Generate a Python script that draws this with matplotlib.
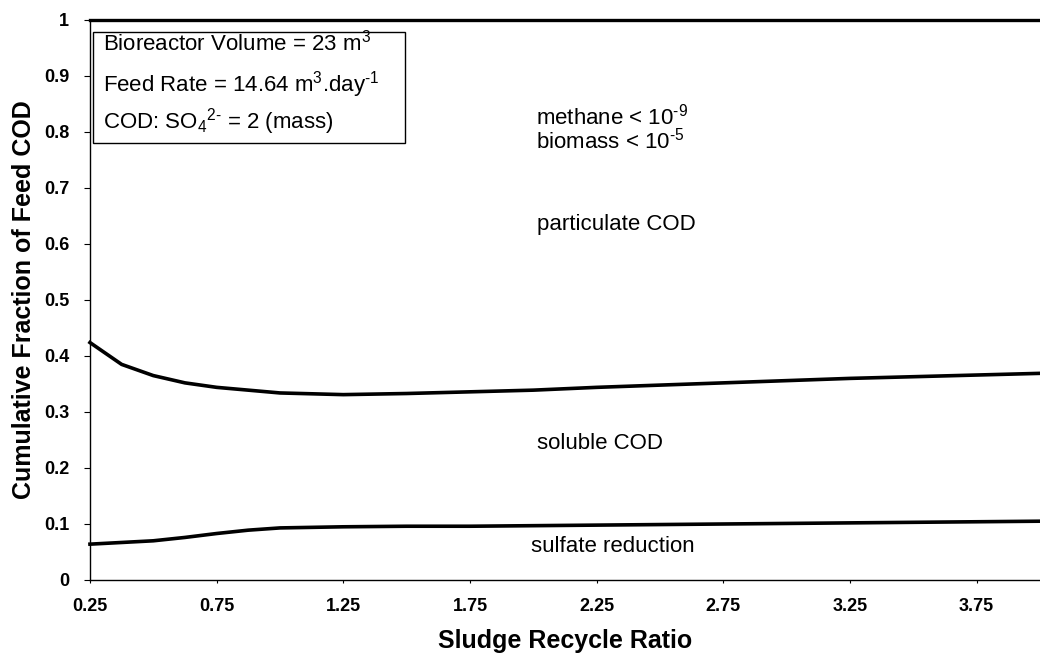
import numpy as np
import matplotlib
matplotlib.use('Agg')
import matplotlib.pyplot as plt
from matplotlib.patches import Rectangle

plt.rcParams['font.family'] = ['Liberation Sans', 'DejaVu Sans']
plt.rcParams['mathtext.fontset'] = 'custom'
plt.rcParams['mathtext.rm'] = 'Liberation Sans'
plt.rcParams['mathtext.it'] = 'Liberation Sans'
plt.rcParams['mathtext.bf'] = 'Liberation Sans:bold'

# 数据
ratio = [0.25, 0.375, 0.5, 0.625, 0.75, 0.875, 1.0, 1.25, 1.5, 1.75, 2.0,
         2.25, 2.5, 2.75, 3.0, 3.25, 3.5, 3.75, 4.0]
sulfate = [0.064, 0.067, 0.070, 0.076, 0.083, 0.089, 0.093, 0.095, 0.096, 0.096,
           0.097, 0.098, 0.099, 0.100, 0.101, 0.102, 0.103, 0.104, 0.105]
soluble = [0.424, 0.385, 0.365, 0.352, 0.344, 0.339, 0.334, 0.331, 0.333, 0.336,
           0.339, 0.344, 0.348, 0.352, 0.356, 0.360, 0.363, 0.366, 0.369]
total = [1.0] * len(ratio)

x_ticks = [0.25, 0.75, 1.25, 1.75, 2.25, 2.75, 3.25, 3.75]
y_ticks = [0, 0.1, 0.2, 0.3, 0.4, 0.5, 0.6, 0.7, 0.8, 0.9, 1.0]
y_labels = ['0', '0.1', '0.2', '0.3', '0.4', '0.5', '0.6', '0.7', '0.8', '0.9', '1']

fig = plt.figure(figsize=(10.4, 6.57), dpi=100)
ax = fig.add_axes([0.0865, 0.1172, 0.9135, 0.8524])

ax.plot(ratio, sulfate, color='black', lw=2.6, clip_on=False)
ax.plot(ratio, soluble, color='black', lw=2.6, clip_on=False)
ax.plot(ratio, total, color='black', lw=2.4, clip_on=False)

ax.set_xlim(0.25, 4.0)
ax.set_ylim(0, 1.0)
ax.set_xticks(x_ticks)
ax.set_xticklabels([f'{t:.2f}' for t in x_ticks], fontsize=13, fontweight='bold')
ax.set_yticks(y_ticks)
ax.set_yticklabels(y_labels, fontsize=13, fontweight='bold')
ax.tick_params(axis='x', length=2, width=0.8, pad=11)
ax.tick_params(axis='y', length=4, width=0.8, pad=11)

for s in ['top', 'right']:
    ax.spines[s].set_visible(False)
ax.spines['left'].set_linewidth(1.0)
ax.spines['bottom'].set_linewidth(1.0)

ax.set_xlabel('Sludge Recycle Ratio', fontsize=18, fontweight='bold', labelpad=10)
ax.set_ylabel('Cumulative Fraction of Feed COD', fontsize=18, fontweight='bold', labelpad=6)

# 参数框
ax.add_patch(Rectangle((0.262, 0.780), 1.23, 0.199, fill=False, lw=1.0,
                       edgecolor='black', zorder=3, clip_on=False))
ax.text(0.302, 0.946, 'Bioreactor Volume = 23 m$^3$', fontsize=16, va='baseline')
ax.text(0.302, 0.872, r'Feed Rate = 14.64 m$^3$.day$^{\text{-1}}$', fontsize=16, va='baseline')
ax.text(0.302, 0.806, r'COD: SO$_4$$^{\text{2-}}$ = 2 (mass)', fontsize=16, va='baseline')

# 区域标注
ax.text(2.01, 0.814, r'methane < 10$^{\text{-9}}$', fontsize=16, va='baseline')
ax.text(2.01, 0.770, r'biomass < 10$^{\text{-5}}$', fontsize=16, va='baseline')
ax.text(2.016, 0.625, 'particulate COD', fontsize=16, va='baseline')
ax.text(2.016, 0.234, 'soluble COD', fontsize=16, va='baseline')
ax.text(1.99, 0.050, 'sulfate reduction', fontsize=16, va='baseline')

fig.savefig('out.png', dpi=100)
